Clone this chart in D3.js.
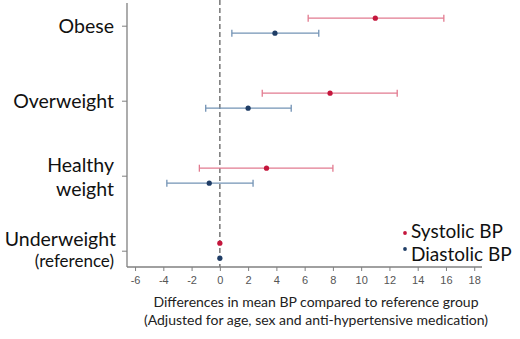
<!DOCTYPE html>
<html>
<head>
<meta charset="utf-8">
<script src="https://cdn.jsdelivr.net/npm/d3@7"></script>
<style>
  html, body { margin: 0; padding: 0; background: #fff; }
  svg { display: block; font-family: Lato, "Open Sans", sans-serif; }
</style>
</head>
<body>
<div id="chart"></div>
<script>
const categories = ["Obese", "Overweight", "Healthy weight", "Underweight (reference)"];
const categoryLines = [["Obese"], ["Overweight"], ["Healthy", "weight"], ["Underweight", "(reference)"]];

const systolic = [11.0, 7.8, 3.3, 0];
const systolicLow = [6.25, 3.0, -1.45, 0];
const systolicHigh = [15.85, 12.55, 8.0, 0];

const diastolic = [3.9, 2.0, -0.75, 0];
const diastolicLow = [0.85, -1.0, -3.75, 0];
const diastolicHigh = [7.0, 5.05, 2.35, 0];

const xTicks = [-6, -4, -2, 0, 2, 4, 6, 8, 10, 12, 14, 16, 18];
const seriesNames = ["Systolic BP", "Diastolic BP"];

const width = 520;
const height = 339;
const plot = { left: 127, right: 482, top: 3, bottom: 267 };

const colors = {
  sysLine: "#e27b90",
  sysDot: "#c4163c",
  diaLine: "#7393b5",
  diaDot: "#1f3d66",
};

const x = d3.scaleLinear().domain([-6.57, 18.55]).range([plot.left, plot.right]);
const y = d3.scalePoint().domain(categories).range([25.7, 250.7]);
const offset = 7.5;

const svg = d3.select("#chart")
  .append("svg")
  .attr("width", width)
  .attr("height", height)
  .attr("viewBox", [0, 0, width, height]);

// zero reference line
svg.append("line")
  .attr("x1", x(0)).attr("x2", x(0))
  .attr("y1", 0).attr("y2", plot.bottom)
  .attr("stroke", "#777")
  .attr("stroke-width", 1.5)
  .attr("stroke-dasharray", "5,3");

// x axis (plain hyphen for negatives, like the original)
const xAxis = svg.append("g")
  .attr("transform", `translate(0,${plot.bottom})`)
  .call(d3.axisBottom(x).tickValues(xTicks).tickSize(4).tickSizeOuter(0).tickPadding(5)
    .tickFormat((d) => String(d)));
xAxis.select(".domain").attr("stroke", "#808080").attr("stroke-width", 1.3)
  .attr("d", `M${plot.left},0H${plot.right}`);
xAxis.selectAll(".tick line").attr("stroke", "#808080");
xAxis.selectAll(".tick text")
  .attr("fill", "#555")
  .style("font-size", "11px")
  .style("font-family", "'Liberation Sans', Arial, sans-serif");

// y axis
const yAxis = svg.append("g")
  .attr("transform", `translate(${plot.left},0)`)
  .call(d3.axisLeft(y).tickSize(5).tickSizeOuter(0).tickFormat(""));
yAxis.select(".domain").attr("stroke", "#808080").attr("stroke-width", 1.3)
  .attr("d", `M0,${plot.top}V${plot.bottom}`);
yAxis.selectAll(".tick line").attr("stroke", "#808080");

// category labels
const labels = svg.append("g").attr("text-anchor", "end").attr("fill", "#111");
categories.forEach((c, i) => {
  const lines = categoryLines[i];
  const cy = y(c);
  if (lines.length === 1) {
    labels.append("text")
      .attr("x", 114).attr("y", cy)
      .attr("dy", "0.35em")
      .style("font-size", "19.5px")
      .text(lines[0]);
  } else if (i === 2) {
    labels.append("text").attr("x", 114).attr("y", cy - 4).style("font-size", "19.5px").text(lines[0]);
    labels.append("text").attr("x", 114).attr("y", cy + 20).style("font-size", "19.5px").text(lines[1]);
  } else {
    labels.append("text").attr("x", 116).attr("y", cy - 5).style("font-size", "19.5px").text(lines[0]);
    labels.append("text").attr("x", 114).attr("y", cy + 16).style("font-size", "17px").text(lines[1]);
  }
});

// error bars
function drawSeries(vals, lows, highs, dy, lineColor, dotColor) {
  const g = svg.append("g");
  const rows = categories.map((c, i) => ({ c, v: vals[i], lo: lows[i], hi: highs[i] }));
  const bars = rows.filter((d) => d.hi > d.lo);
  g.selectAll("line.ci").data(bars).join("line")
    .attr("class", "ci")
    .attr("x1", (d) => x(d.lo)).attr("x2", (d) => x(d.hi))
    .attr("y1", (d) => y(d.c) + dy).attr("y2", (d) => y(d.c) + dy)
    .attr("stroke", lineColor).attr("stroke-width", 1.3);
  ["lo", "hi"].forEach((k) => {
    g.selectAll(`line.cap-${k}`).data(bars).join("line")
      .attr("class", `cap-${k}`)
      .attr("x1", (d) => x(d[k])).attr("x2", (d) => x(d[k]))
      .attr("y1", (d) => y(d.c) + dy - 3.5).attr("y2", (d) => y(d.c) + dy + 3.5)
      .attr("stroke", lineColor).attr("stroke-width", 1.3);
  });
  g.selectAll("circle").data(rows).join("circle")
    .attr("cx", (d) => x(d.v))
    .attr("cy", (d) => y(d.c) + dy)
    .attr("r", 2.6)
    .attr("fill", dotColor);
}

drawSeries(systolic, systolicLow, systolicHigh, -offset, colors.sysLine, colors.sysDot);
drawSeries(diastolic, diastolicLow, diastolicHigh, offset, colors.diaLine, colors.diaDot);

// legend
const legend = svg.append("g");
const legendDots = [colors.sysDot, colors.diaDot];
const legendY = [231, 254];
const legendDotY = [233, 249];
seriesNames.forEach((name, i) => {
  legend.append("circle").attr("cx", 405).attr("cy", legendDotY[i]).attr("r", 1.9).attr("fill", legendDots[i]);
  legend.append("text")
    .attr("x", 411).attr("y", legendY[i])
    .attr("dy", "0.35em")
    .attr("fill", "#111")
    .style("font-size", "19px")
    .text(name);
});

// x axis title
const title = svg.append("g").attr("text-anchor", "middle").attr("fill", "#222").style("font-size", "14px");
title.append("text").attr("x", 316).attr("y", 302).attr("dy", "0.35em")
  .text("Differences in mean BP compared to reference group");
title.append("text").attr("x", 316).attr("y", 320).attr("dy", "0.35em")
  .text("(Adjusted for age, sex and anti-hypertensive medication)");
</script>
</body>
</html>
